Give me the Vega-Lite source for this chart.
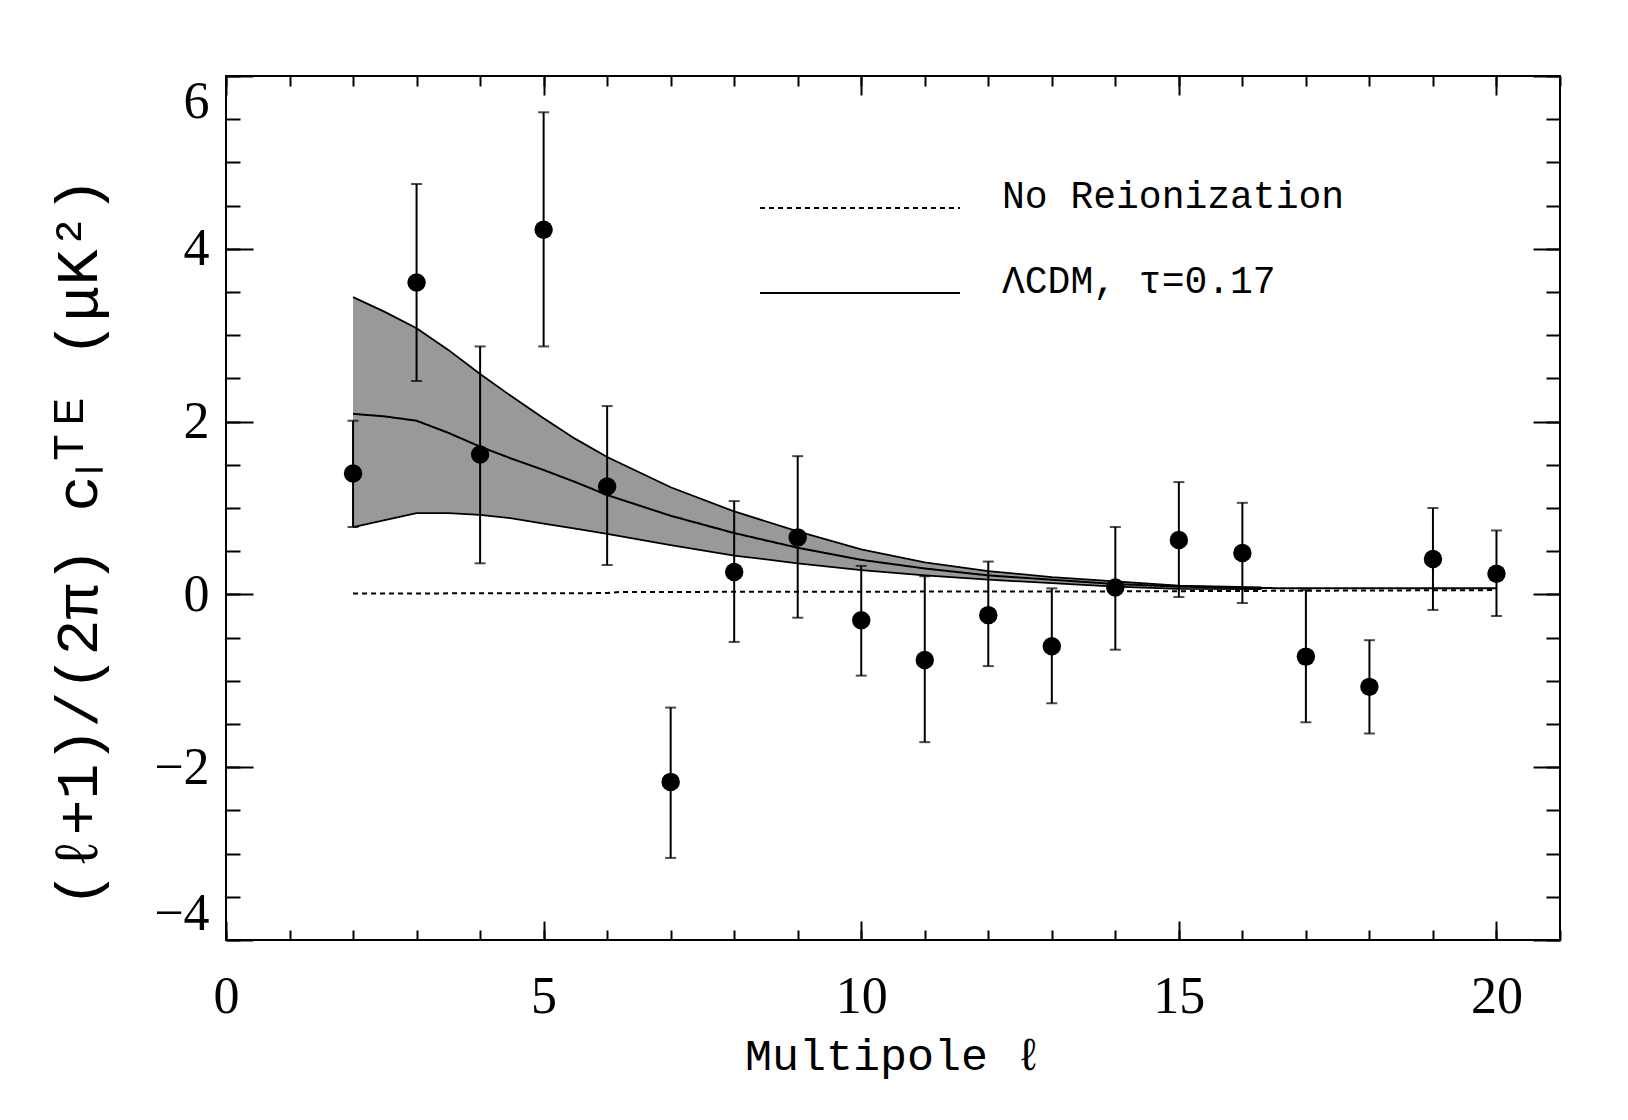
{
  "$schema": "https://vega.github.io/schema/vega-lite/v6.json",
  "autosize": "none",
  "width": 1334,
  "height": 864,
  "padding": {"left": 226, "top": 76, "right": 68, "bottom": 180},
  "background": "white",
  "datasets": {
    "band": [
      {"l": 2, "lo": 0.78, "hi": 3.44},
      {"l": 2.5, "lo": 0.86, "hi": 3.27},
      {"l": 3, "lo": 0.94, "hi": 3.08},
      {"l": 3.5, "lo": 0.94, "hi": 2.83},
      {"l": 4, "lo": 0.92, "hi": 2.55},
      {"l": 4.5, "lo": 0.88, "hi": 2.29},
      {"l": 5, "lo": 0.82, "hi": 2.04},
      {"l": 5.5, "lo": 0.76, "hi": 1.8},
      {"l": 6, "lo": 0.7, "hi": 1.59},
      {"l": 7, "lo": 0.57, "hi": 1.24},
      {"l": 8, "lo": 0.45, "hi": 0.96},
      {"l": 9, "lo": 0.36, "hi": 0.73},
      {"l": 10, "lo": 0.28, "hi": 0.52},
      {"l": 11, "lo": 0.22, "hi": 0.37},
      {"l": 12, "lo": 0.17, "hi": 0.27},
      {"l": 13, "lo": 0.13, "hi": 0.2},
      {"l": 14, "lo": 0.09, "hi": 0.15},
      {"l": 15, "lo": 0.065, "hi": 0.1},
      {"l": 16.3, "lo": 0.06, "hi": 0.08}
    ],
    "model": [
      {"l": 2, "v": 0.01, "series": "No Reionization"},
      {"l": 6, "v": 0.015, "series": "No Reionization"},
      {"l": 6.2, "v": 0.028, "series": "No Reionization"},
      {"l": 14, "v": 0.035, "series": "No Reionization"},
      {"l": 20, "v": 0.05, "series": "No Reionization"},
      {"l": 2, "v": 2.09, "series": "ΛCDM, τ=0.17"},
      {"l": 2.5, "v": 2.06, "series": "ΛCDM, τ=0.17"},
      {"l": 3, "v": 2.01, "series": "ΛCDM, τ=0.17"},
      {"l": 3.5, "v": 1.87, "series": "ΛCDM, τ=0.17"},
      {"l": 4, "v": 1.71, "series": "ΛCDM, τ=0.17"},
      {"l": 4.5, "v": 1.57, "series": "ΛCDM, τ=0.17"},
      {"l": 5, "v": 1.44, "series": "ΛCDM, τ=0.17"},
      {"l": 5.5, "v": 1.3, "series": "ΛCDM, τ=0.17"},
      {"l": 6, "v": 1.15, "series": "ΛCDM, τ=0.17"},
      {"l": 7, "v": 0.91, "series": "ΛCDM, τ=0.17"},
      {"l": 8, "v": 0.71, "series": "ΛCDM, τ=0.17"},
      {"l": 9, "v": 0.54, "series": "ΛCDM, τ=0.17"},
      {"l": 10, "v": 0.4, "series": "ΛCDM, τ=0.17"},
      {"l": 11, "v": 0.3, "series": "ΛCDM, τ=0.17"},
      {"l": 12, "v": 0.22, "series": "ΛCDM, τ=0.17"},
      {"l": 13, "v": 0.17, "series": "ΛCDM, τ=0.17"},
      {"l": 14, "v": 0.12, "series": "ΛCDM, τ=0.17"},
      {"l": 15, "v": 0.09, "series": "ΛCDM, τ=0.17"},
      {"l": 16, "v": 0.075, "series": "ΛCDM, τ=0.17"},
      {"l": 17, "v": 0.07, "series": "ΛCDM, τ=0.17"},
      {"l": 20, "v": 0.07, "series": "ΛCDM, τ=0.17"}
    ],
    "points": [
      {"l": 2, "v": 1.4, "lo": 0.78, "hi": 2.01},
      {"l": 3, "v": 3.61, "lo": 2.47, "hi": 4.75},
      {"l": 4, "v": 1.62, "lo": 0.36, "hi": 2.87},
      {"l": 5, "v": 4.22, "lo": 2.87, "hi": 5.58},
      {"l": 6, "v": 1.25, "lo": 0.34, "hi": 2.18},
      {"l": 7, "v": -2.17, "lo": -3.05, "hi": -1.31},
      {"l": 8, "v": 0.26, "lo": -0.55, "hi": 1.08},
      {"l": 9, "v": 0.66, "lo": -0.27, "hi": 1.6},
      {"l": 10, "v": -0.3, "lo": -0.94, "hi": 0.33},
      {"l": 11, "v": -0.76, "lo": -1.71, "hi": 0.21},
      {"l": 12, "v": -0.24, "lo": -0.83, "hi": 0.38},
      {"l": 13, "v": -0.6, "lo": -1.26, "hi": 0.07},
      {"l": 14, "v": 0.08, "lo": -0.64, "hi": 0.78},
      {"l": 15, "v": 0.63, "lo": -0.03, "hi": 1.3},
      {"l": 16, "v": 0.48, "lo": -0.1, "hi": 1.06},
      {"l": 17, "v": -0.72, "lo": -1.48, "hi": 0.05},
      {"l": 18, "v": -1.07, "lo": -1.61, "hi": -0.53},
      {"l": 19, "v": 0.41, "lo": -0.18, "hi": 1.0},
      {"l": 20, "v": 0.24, "lo": -0.25, "hi": 0.74}
    ]
  },
  "resolve": {"axis": {"x": "independent", "y": "independent"}},
  "layer": [
    {
      "data": {"name": "band"},
      "mark": {"type": "area", "fill": "#999999", "opacity": 1},
      "encoding": {
        "x": {"field": "l", "type": "quantitative", "scale": {"domain": [0, 21], "nice": false, "zero": false},
          "axis": {"orient": "bottom", "values": [0, 5, 10, 15, 20], "ticks": false, "tickSize": 0, "labelPadding": 31,
            "labelFlush": false,
            "labelFont": "Liberation Serif", "labelFontSize": 52, "title": "Multipole ℓ", "titleFont": "Liberation Mono",
            "titleFontSize": 45, "titleFontWeight": "normal", "titleBaseline": "alphabetic", "titleY": 129}},
        "y": {"field": "hi", "type": "quantitative", "scale": {"domain": [-4, 6], "nice": false, "zero": false},
          "axis": {"orient": "left", "values": [-4, -2, 0, 2, 4, 6], "ticks": false, "tickSize": 0, "labelPadding": 17,
            "labelFlush": true, "labelFont": "Liberation Serif", "labelFontSize": 52,
            "title": "(ℓ+1)/(2π) cₗᵀᴱ (μK²)", "titleFont": "Liberation Mono", "titleFontSize": 60, "titleFontWeight": "normal",
            "titleBaseline": "middle", "titleX": -148, "titleY": 466, "titleAngle": -90}},
        "y2": {"field": "lo"}
      }
    },
    {
      "data": {"name": "band"},
      "mark": {"type": "line", "color": "black", "strokeWidth": 1.8},
      "encoding": {
        "x": {"field": "l", "type": "quantitative",
          "axis": {"orient": "bottom", "values": [0, 5, 10, 15, 20], "labels": false, "tickSize": -19, "title": null}},
        "y": {"field": "hi", "type": "quantitative",
          "axis": {"orient": "left", "values": [-4, -2, 0, 2, 4, 6], "labels": false, "tickSize": -27, "title": null}}
      }
    },
    {
      "data": {"name": "band"},
      "mark": {"type": "line", "color": "black", "strokeWidth": 1.8},
      "encoding": {
        "x": {"field": "l", "type": "quantitative",
          "axis": {"orient": "bottom", "values": [0,1,2,3,4,5,6,7,8,9,10,11,12,13,14,15,16,17,18,19,20,21], "labels": false, "tickSize": -10, "title": null}},
        "y": {"field": "lo", "type": "quantitative",
          "axis": {"orient": "left", "values": [-4,-3.5,-3,-2.5,-2,-1.5,-1,-0.5,0,0.5,1,1.5,2,2.5,3,3.5,4,4.5,5,5.5,6], "labels": false, "tickSize": -14, "title": null}}
      }
    },
    {
      "data": {"name": "model"},
      "mark": {"type": "line", "color": "black", "strokeWidth": 2},
      "encoding": {
        "x": {"field": "l", "type": "quantitative",
          "axis": {"orient": "top", "values": [0, 5, 10, 15, 20], "labels": false, "tickSize": -19, "title": null}},
        "y": {"field": "v", "type": "quantitative",
          "axis": {"orient": "right", "values": [-4, -2, 0, 2, 4, 6], "labels": false, "tickSize": -27, "title": null}},
        "strokeDash": {"field": "series", "type": "nominal",
          "scale": {"domain": ["No Reionization", "ΛCDM, τ=0.17"], "range": [[5, 4], [1, 0]]},
          "legend": {"orient": "none", "legendX": 613, "legendY": 111, "title": null, "symbolType": "M-5,0H5",
            "symbolSize": 1600, "symbolStrokeWidth": 2, "symbolStrokeColor": "black", "symbolFillColor": "transparent",
            "labelFont": "Liberation Mono", "labelFontSize": 38, "labelOffset": 121, "labelBaseline": "alphabetic",
            "rowPadding": 47, "padding": 0, "labelLimit": 0, "labelColor": "black"}}
      }
    },
    {
      "data": {"name": "points"},
      "mark": {"type": "rule", "color": "black", "strokeWidth": 2},
      "encoding": {
        "x": {"field": "l", "type": "quantitative",
          "axis": {"orient": "top", "values": [0,1,2,3,4,5,6,7,8,9,10,11,12,13,14,15,16,17,18,19,20,21], "labels": false, "tickSize": -10, "title": null}},
        "y": {"field": "lo", "type": "quantitative",
          "axis": {"orient": "right", "values": [-4,-3.5,-3,-2.5,-2,-1.5,-1,-0.5,0,0.5,1,1.5,2,2.5,3,3.5,4,4.5,5,5.5,6], "labels": false, "tickSize": -14, "title": null}},
        "y2": {"field": "hi"}
      }
    },
    {
      "data": {"name": "points"},
      "mark": {"type": "tick", "orient": "horizontal", "color": "black", "size": 11, "thickness": 2},
      "encoding": {
        "x": {"field": "l", "type": "quantitative", "axis": null},
        "y": {"field": "hi", "type": "quantitative", "axis": null}
      }
    },
    {
      "data": {"name": "points"},
      "mark": {"type": "tick", "orient": "horizontal", "color": "black", "size": 11, "thickness": 2},
      "encoding": {
        "x": {"field": "l", "type": "quantitative", "axis": null},
        "y": {"field": "lo", "type": "quantitative", "axis": null}
      }
    },
    {
      "data": {"name": "points"},
      "mark": {"type": "circle", "color": "black", "opacity": 1, "size": 340},
      "encoding": {
        "x": {"field": "l", "type": "quantitative", "axis": null},
        "y": {"field": "v", "type": "quantitative", "axis": null}
      }
    }
  ],
  "config": {
    "view": {"stroke": "black", "strokeWidth": 2},
    "axis": {"grid": false, "domain": false, "tickColor": "black", "tickWidth": 2, "labelColor": "black", "titleColor": "black"}
  }
}
